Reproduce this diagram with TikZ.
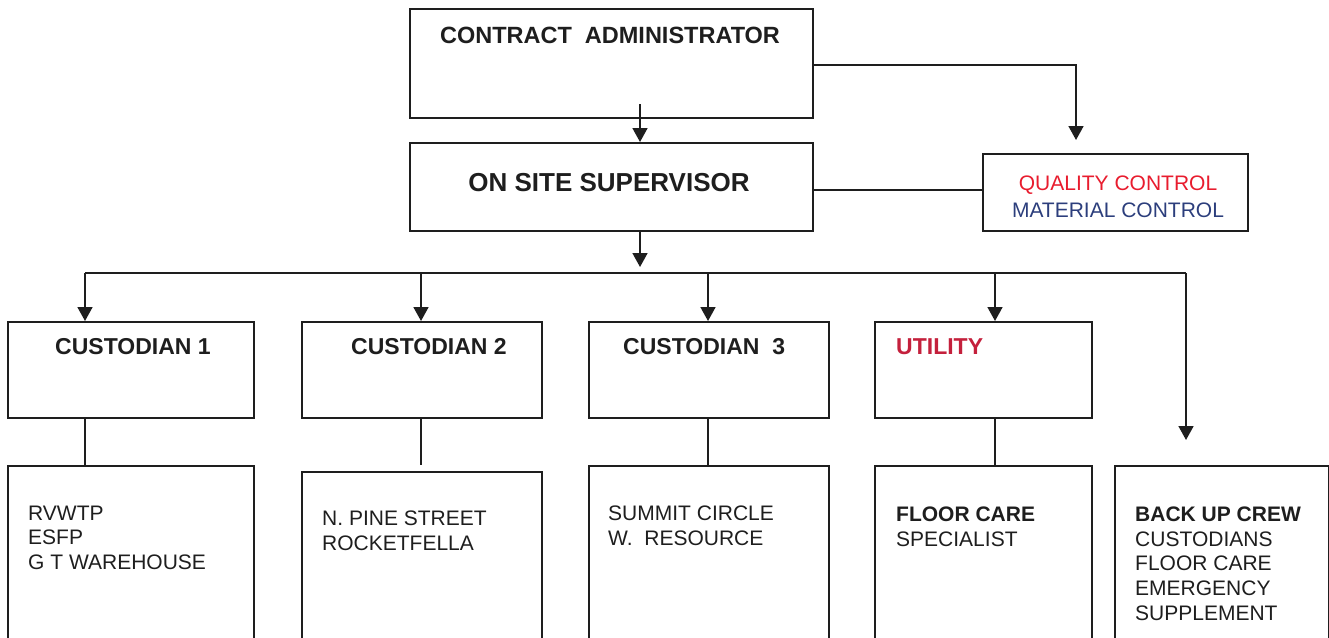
\documentclass[tikz,border=0pt]{standalone}
\usepackage{fontspec}
\setmainfont{Liberation Sans}
\usetikzlibrary{arrows.meta}
\definecolor{qcred}{RGB}{232,28,46}
\definecolor{mcblue}{RGB}{44,62,124}
\definecolor{utilred}{RGB}{196,32,60}
\definecolor{ink}{RGB}{30,30,30}
\begin{document}
\begin{tikzpicture}[x=1pt,y=-1pt,
  box/.style={draw=ink, line width=1.7pt, rectangle, inner sep=0pt, anchor=north west},
  conn/.style={draw=ink, line width=1.7pt},
  arr/.style={conn, -{Triangle[width=15pt,length=14pt]}},
  body/.style={font=\fontsize{21}{24.7}\selectfont, inner sep=0pt, anchor=north west, align=left, text=ink},
  title/.style={font=\fontsize{23}{27}\selectfont\bfseries, inner sep=0pt, text=ink},
]
\useasboundingbox (0,0) rectangle (1329,637);
\clip (0,0) rectangle (1329,637);

% boxes
\node[box, minimum width=403pt, minimum height=109pt] (ca) at (409,8) {};
\node[box, minimum width=403pt, minimum height=88pt] (oss) at (409,142) {};
\node[box, minimum width=265pt, minimum height=77pt] (qc) at (982,153) {};
\node[box, minimum width=246pt, minimum height=96pt] (c1) at (7,321) {};
\node[box, minimum width=240pt, minimum height=96pt] (c2) at (301,321) {};
\node[box, minimum width=240pt, minimum height=96pt] (c3) at (588,321) {};
\node[box, minimum width=217pt, minimum height=96pt] (ut) at (874,321) {};
\node[box, minimum width=246pt, minimum height=220pt] (c1b) at (7,465) {};
\node[box, minimum width=240pt, minimum height=220pt] (c2b) at (301,471) {};
\node[box, minimum width=240pt, minimum height=220pt] (c3b) at (588,465) {};
\node[box, minimum width=217pt, minimum height=220pt] (utb) at (874,465) {};
\node[box, minimum width=214pt, minimum height=220pt] (bkb) at (1114,465) {};

% texts
\node[title, font=\fontsize{23.5}{27}\selectfont\bfseries] (tca) at (610,35) {CONTRACT\ \ ADMINISTRATOR};
\node[title, font=\fontsize{26}{30}\selectfont\bfseries] (toss) at (609,183) {ON SITE SUPERVISOR};
\node[inner sep=0pt, font=\fontsize{21}{27}\selectfont, align=center] (tqc) at (1118,197) {\textcolor{qcred}{QUALITY CONTROL}\\\textcolor{mcblue}{MATERIAL CONTROL}};
\node[title, anchor=west] (tc1) at (55,347) {CUSTODIAN 1};
\node[title, anchor=west] (tc2) at (351,347) {CUSTODIAN 2};
\node[title, anchor=west] (tc3) at (623,347) {CUSTODIAN\ \ 3};
\node[title, anchor=west, text=utilred] (tut) at (896,347) {UTILITY};
\node[body] (tc1b) at (28,505.5) {RVWTP\\ESFP\\G T WAREHOUSE};
\node[body] (tc2b) at (322,510.5) {N. PINE STREET\\ROCKETFELLA};
\node[body] (tc3b) at (608,505.5) {SUMMIT CIRCLE\\W.\ \ RESOURCE};
\node[body] (tutb) at (896,506.5) {\textbf{FLOOR CARE}\\SPECIALIST};
\node[body] (tbkb) at (1135,506.5) {\textbf{BACK UP CREW}\\CUSTODIANS\\FLOOR CARE\\EMERGENCY\\SUPPLEMENT};

% coordinates
\coordinate (castem) at (640,104);
\coordinate (busin) at (640,267);
\coordinate (qcbend) at (1076,65);
\coordinate (qctip) at (1076,140);
\coordinate (qcin) at (982,190);
\coordinate (b1) at (85,273);
\coordinate (b2) at (421,273);
\coordinate (b3) at (708,273);
\coordinate (b4) at (995,273);
\coordinate (bk) at (1186,273);
\coordinate (bktip) at (1186,440);

% connectors
\draw[arr] (castem) -- (castem |- oss.north);
\draw[arr] (qcbend -| ca.east) -- (qcbend) -- (qctip);
\draw[conn] (qcin -| oss.east) -- (qcin);
\draw[arr] (busin |- oss.south) -- (busin);
\draw[conn] (b1) -- (bk);
\draw[arr] (b1) -- (b1 |- c1.north);
\draw[arr] (b2) -- (b2 |- c2.north);
\draw[arr] (b3) -- (b3 |- c3.north);
\draw[arr] (b4) -- (b4 |- ut.north);
\draw[arr] (bk) -- (bktip);
\draw[conn] (b1 |- c1.south) -- (b1 |- c1b.north);
\draw[conn] (b2 |- c2.south) -- (b2 |- c1b.north);
\draw[conn] (b3 |- c3.south) -- (b3 |- c3b.north);
\draw[conn] (b4 |- ut.south) -- (b4 |- utb.north);
\end{tikzpicture}
\end{document}
